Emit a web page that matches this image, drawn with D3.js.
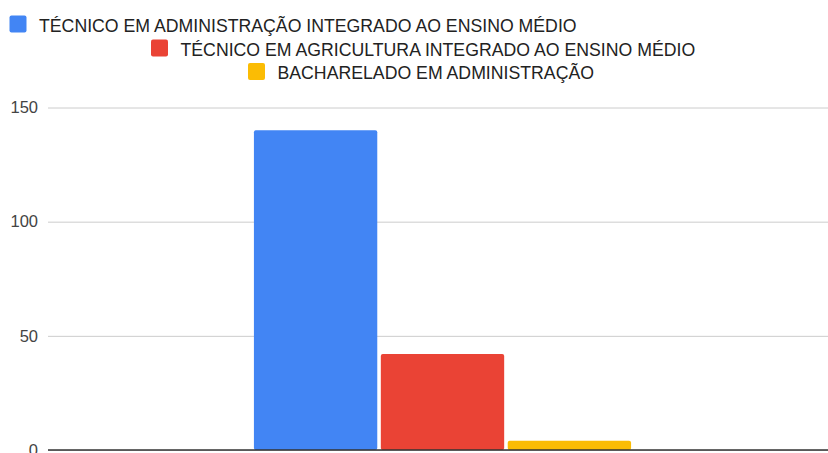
<!DOCTYPE html>
<html>
<head>
<meta charset="utf-8">
<script src="https://cdn.jsdelivr.net/npm/d3@7"></script>
<style>
  body { margin: 0; background: #fff; }
  svg { display: block; font-family: "Liberation Sans", Arial, sans-serif; }
</style>
</head>
<body>
<div id="chart"></div>
<script>
// Single category, three series
const categories = [""];
const seriesNames = [
    "TÉCNICO EM ADMINISTRAÇÃO INTEGRADO AO ENSINO MÉDIO",
    "TÉCNICO EM AGRICULTURA INTEGRADO AO ENSINO MÉDIO",
    "BACHARELADO EM ADMINISTRAÇÃO"
];
const seriesValues = [140, 42, 4];
const seriesColors = ["#4285f4", "#ea4335", "#fbbc04"];
const yTicks = [0, 50, 100, 150];

const W = 828, H = 453;
const margin = { top: 107.5, right: -9, bottom: 3, left: 48 };

const svg = d3.select("#chart")
    .append("svg")
    .attr("width", W)
    .attr("height", H);

const y = d3.scaleLinear()
    .domain([0, 150])
    .range([H - margin.bottom, margin.top]);

const x0 = d3.scaleBand()
    .domain(categories)
    .range([margin.left, W - margin.right])
    .paddingOuter(0.546);

const x1 = d3.scaleBand()
    .domain(seriesNames)
    .range([0, x0.bandwidth()])
    .paddingInner(0.028);

// Grid
svg.append("g")
    .attr("transform", `translate(${margin.left},0)`)
    .call(d3.axisLeft(y).tickValues(yTicks).tickSize(-(W - margin.left)).tickFormat(""))
    .call(g => g.select(".domain").remove())
    .call(g => g.selectAll("line").attr("stroke", "#cccccc").attr("stroke-width", 1));

// Y labels
svg.append("g")
    .attr("transform", `translate(${margin.left},0)`)
    .call(d3.axisLeft(y).tickValues(yTicks).tickSize(0).tickPadding(10))
    .call(g => g.select(".domain").remove())
    .call(g => g.selectAll("text")
        .attr("fill", "#444")
        .style("font-size", "16.5px")
        .style("font-family", "'Liberation Sans', Arial, sans-serif"));

// Bars
const group = svg.append("g")
    .selectAll("g")
    .data(categories)
    .join("g")
    .attr("transform", d => `translate(${x0(d)},0)`);

group.selectAll("rect")
    .data(() => seriesNames.map((name, i) => ({ name, value: seriesValues[i], color: seriesColors[i] })))
    .join("rect")
    .attr("x", d => x1(d.name))
    .attr("y", d => y(d.value))
    .attr("width", x1.bandwidth())
    .attr("height", d => y(0) - y(d.value))
    .attr("rx", 2)
    .attr("fill", d => d.color);

// Baseline
svg.append("line")
    .attr("x1", margin.left)
    .attr("x2", W)
    .attr("y1", y(0))
    .attr("y2", y(0))
    .attr("stroke", "#333")
    .attr("stroke-width", 1.5);

// Legend (wrapped rows like the original)
const legendX = [9.5, 151, 248];
const legendY = [24, 48, 71.5];
const legend = svg.append("g");
seriesNames.forEach((name, i) => {
    const item = legend.append("g")
        .attr("transform", `translate(${legendX[i]},${legendY[i]})`);
    item.append("rect")
        .attr("x", 0)
        .attr("y", -8.5)
        .attr("width", 17)
        .attr("height", 17)
        .attr("rx", 2)
        .attr("fill", seriesColors[i]);
    item.append("text")
        .attr("x", 29.5)
        .attr("y", 7.5)
        .attr("fill", "#222")
        .style("font-size", "17.7px")
        .text(name);
});
</script>
</body>
</html>
